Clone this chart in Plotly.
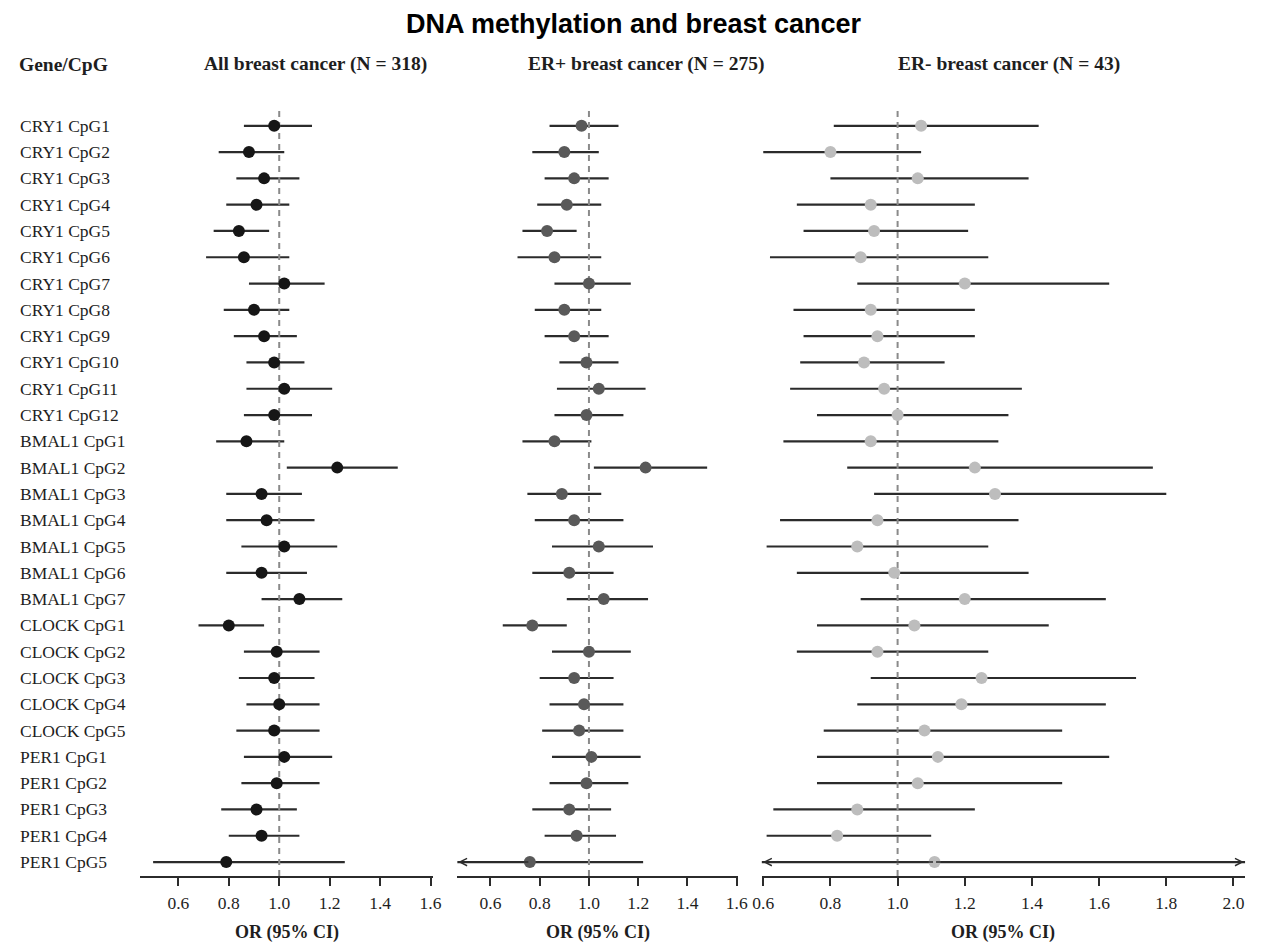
import plotly.graph_objects as go

# ---------------- data ----------------
labels = [
    "CRY1 CpG1", "CRY1 CpG2", "CRY1 CpG3", "CRY1 CpG4", "CRY1 CpG5", "CRY1 CpG6",
    "CRY1 CpG7", "CRY1 CpG8", "CRY1 CpG9", "CRY1 CpG10", "CRY1 CpG11", "CRY1 CpG12",
    "BMAL1 CpG1", "BMAL1 CpG2", "BMAL1 CpG3", "BMAL1 CpG4", "BMAL1 CpG5", "BMAL1 CpG6",
    "BMAL1 CpG7", "CLOCK CpG1", "CLOCK CpG2", "CLOCK CpG3", "CLOCK CpG4", "CLOCK CpG5",
    "PER1 CpG1", "PER1 CpG2", "PER1 CpG3", "PER1 CpG4", "PER1 CpG5",
]

# All breast cancer (N = 318)
all_or = [0.98, 0.88, 0.94, 0.91, 0.84, 0.86, 1.02, 0.90, 0.94, 0.98, 1.02, 0.98,
          0.87, 1.23, 0.93, 0.95, 1.02, 0.93, 1.08, 0.80, 0.99, 0.98, 1.00, 0.98,
          1.02, 0.99, 0.91, 0.93, 0.79]
all_lo = [0.86, 0.76, 0.83, 0.79, 0.74, 0.71, 0.88, 0.78, 0.82, 0.87, 0.87, 0.86,
          0.75, 1.03, 0.79, 0.79, 0.85, 0.79, 0.93, 0.68, 0.86, 0.84, 0.87, 0.83,
          0.86, 0.85, 0.77, 0.80, 0.50]
all_hi = [1.13, 1.02, 1.08, 1.04, 0.96, 1.04, 1.18, 1.04, 1.07, 1.10, 1.21, 1.13,
          1.02, 1.47, 1.09, 1.14, 1.23, 1.11, 1.25, 0.94, 1.16, 1.14, 1.16, 1.16,
          1.21, 1.16, 1.07, 1.08, 1.26]

# ER+ breast cancer (N = 275)
erp_or = [0.97, 0.90, 0.94, 0.91, 0.83, 0.86, 1.00, 0.90, 0.94, 0.99, 1.04, 0.99,
          0.86, 1.23, 0.89, 0.94, 1.04, 0.92, 1.06, 0.77, 1.00, 0.94, 0.98, 0.96,
          1.01, 0.99, 0.92, 0.95, 0.76]
erp_lo = [0.84, 0.77, 0.82, 0.79, 0.73, 0.71, 0.86, 0.78, 0.82, 0.88, 0.87, 0.86,
          0.73, 1.02, 0.75, 0.78, 0.85, 0.77, 0.91, 0.65, 0.85, 0.80, 0.84, 0.81,
          0.85, 0.84, 0.77, 0.82, 0.40]  # last lower limit lies beyond the axis (arrow)
erp_hi = [1.12, 1.04, 1.08, 1.05, 0.95, 1.05, 1.17, 1.05, 1.08, 1.12, 1.23, 1.14,
          1.01, 1.48, 1.05, 1.14, 1.26, 1.10, 1.24, 0.91, 1.17, 1.10, 1.14, 1.14,
          1.21, 1.16, 1.09, 1.11, 1.22]

# ER- breast cancer (N = 43)
ern_or = [1.07, 0.80, 1.06, 0.92, 0.93, 0.89, 1.20, 0.92, 0.94, 0.90, 0.96, 1.00,
          0.92, 1.23, 1.29, 0.94, 0.88, 0.99, 1.20, 1.05, 0.94, 1.25, 1.19, 1.08,
          1.12, 1.06, 0.88, 0.82, 1.11]
ern_lo = [0.81, 0.60, 0.80, 0.70, 0.72, 0.62, 0.88, 0.69, 0.72, 0.71, 0.68, 0.76,
          0.66, 0.85, 0.93, 0.65, 0.61, 0.70, 0.89, 0.76, 0.70, 0.92, 0.88, 0.78,
          0.76, 0.76, 0.63, 0.61, 0.50]  # last limits lie beyond the axis (arrows)
ern_hi = [1.42, 1.07, 1.39, 1.23, 1.21, 1.27, 1.63, 1.23, 1.23, 1.14, 1.37, 1.33,
          1.30, 1.76, 1.80, 1.36, 1.27, 1.39, 1.62, 1.45, 1.27, 1.71, 1.62, 1.49,
          1.63, 1.49, 1.23, 1.10, 2.40]

ticks_12 = [0.6, 0.8, 1.0, 1.2, 1.4, 1.6]
ticks_3 = [0.6, 0.8, 1.0, 1.2, 1.4, 1.6, 1.8, 2.0]

headers = ["All breast cancer (N = 318)", "ER+ breast cancer (N = 275)", "ER- breast cancer (N = 43)"]

# ---------------- styling / layout ----------------
W, H = 1270, 944


def fx(px):
    return px / W


def fy(py):
    return 1 - py / H


SERIF = "Liberation Serif, Times New Roman, serif"
SANS = "Liberation Sans, Arial, sans-serif"
TXT = "#1e1e1e"
LINE = "#2b2b2b"

panels = [
    dict(axis="x", orv=all_or, lo=all_lo, hi=all_hi, color="#161616",
         px=(133, 430.5), rng=(0.448, 1.61), ticks=ticks_12, head_x=311),
    dict(axis="x2", orv=erp_or, lo=erp_lo, hi=erp_hi, color="#595959",
         px=(455, 740), rng=(0.465, 1.605), ticks=ticks_12, head_x=647),
    dict(axis="x3", orv=ern_or, lo=ern_lo, hi=ern_hi, color="#bdbdbd",
         px=(764, 1255), rng=(0.595, 2.035), ticks=ticks_3, head_x=1015),
]

y_px = (110, 876)
y_range = [28.53, -0.6]
ydom = [fy(y_px[1]), fy(y_px[0])]
rows = list(range(len(labels)))

fig = go.Figure()
annotations = []

for i, p in enumerate(panels):
    ax = p["axis"]
    xmin, xmax = p["rng"]
    lx, ly = [], []
    for r, lo, hi in zip(rows, p["lo"], p["hi"]):
        lx += [max(lo, xmin), min(hi, xmax), None]
        ly += [r, r, None]
    fig.add_trace(go.Scatter(x=lx, y=ly, xaxis=ax, yaxis="y", mode="lines",
                             line=dict(color=LINE, width=2.2), hoverinfo="skip",
                             showlegend=False))
    # reference line at OR = 1
    fig.add_trace(go.Scatter(x=[1.0, 1.0], y=y_range, xaxis=ax, yaxis="y", mode="lines",
                             line=dict(color="#8a8a8a", width=2, dash="6px,5px"),
                             hoverinfo="skip", showlegend=False))
    fig.add_trace(go.Scatter(x=p["orv"], y=rows, xaxis=ax, yaxis="y", mode="markers",
                             marker=dict(color=p["color"], size=12, line=dict(width=0)),
                             text=labels, showlegend=False))
    # arrows for CI limits beyond the axis
    for r, o, lo, hi in zip(rows, p["orv"], p["lo"], p["hi"]):
        for lim, edge in ((lo, xmin), (hi, xmax)):
            if (lim < xmin and edge == xmin) or (lim > xmax and edge == xmax):
                annotations.append(dict(
                    x=edge + (0.004 if edge == xmin else -0.004), y=r, xref=ax, yref="y",
                    ax=o, ay=r, axref=ax, ayref="y", text="", showarrow=True,
                    arrowhead=5, arrowsize=0.9, arrowwidth=1.6, arrowcolor=LINE,
                    standoff=0))
    # panel header
    annotations.append(dict(x=fx(p["head_x"]), y=fy(64), xref="paper", yref="paper",
                            text="<b>%s</b>" % headers[i], showarrow=False,
                            xanchor="center", yanchor="middle",
                            font=dict(family=SERIF, size=19.5, color=TXT)))
    # axis title
    annotations.append(dict(x=fx((p["px"][0] + p["px"][1]) / 2), y=fy(932),
                            xref="paper", yref="paper", text="<b>OR (95% CI)</b>",
                            showarrow=False, xanchor="center", yanchor="middle",
                            font=dict(family=SERIF, size=18, color=TXT)))

# row labels
for r, lab in zip(rows, labels):
    annotations.append(dict(x=fx(9), y=r, xref="paper", yref="y", text=lab,
                            showarrow=False, xanchor="left", yanchor="middle",
                            font=dict(family=SERIF, size=17.5, color=TXT)))

annotations.append(dict(x=fx(8), y=fy(64), xref="paper", yref="paper",
                        text="<b>Gene/CpG</b>", showarrow=False, xanchor="left",
                        yanchor="middle", font=dict(family=SERIF, size=19.5, color=TXT)))
annotations.append(dict(x=fx(634), y=fy(24), xref="paper", yref="paper",
                        text="<b>DNA methylation and breast cancer</b>", showarrow=False,
                        xanchor="center", yanchor="middle",
                        font=dict(family=SANS, size=27, color="#000000")))

layout = dict(
    width=W, height=H, margin=dict(l=0, r=0, t=0, b=0),
    paper_bgcolor="white", plot_bgcolor="white",
    yaxis=dict(domain=ydom, range=y_range, autorange=False, visible=False,
               showgrid=False, zeroline=False),
    annotations=annotations, showlegend=False,
)
for p in panels:
    key = "xaxis" if p["axis"] == "x" else "xaxis" + p["axis"][1:]
    layout[key] = dict(
        domain=[fx(p["px"][0]), fx(p["px"][1])], range=list(p["rng"]), autorange=False,
        anchor="y", showgrid=False, zeroline=False, showline=True, linecolor=LINE,
        linewidth=2, ticks="outside", ticklen=8, tickwidth=2, tickcolor=LINE,
        tickvals=p["ticks"], tickformat=".1f", ticklabelstandoff=2,
        tickfont=dict(family=SERIF, size=17.5, color=TXT),
    )

fig.update_layout(**layout)
fig.write_html(
    "out.html",
    config={"displayModeBar": False},
    post_script="document.body.style.margin='0px';document.body.style.overflow='hidden';",
)
